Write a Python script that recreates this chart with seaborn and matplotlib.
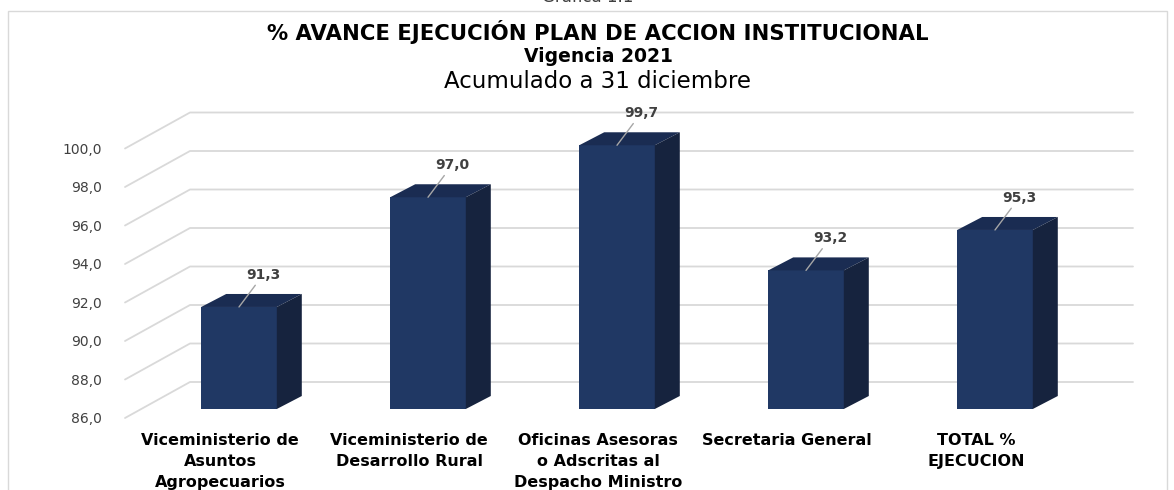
import numpy as np
import matplotlib
matplotlib.use("Agg")
import matplotlib.pyplot as plt
import seaborn as sns
from matplotlib.patches import Polygon, Rectangle
from matplotlib.transforms import ScaledTranslation

# datos de la grafica
categorias = [
    "Viceministerio de\nAsuntos\nAgropecuarios",
    "Viceministerio de\nDesarrollo Rural",
    "Oficinas Asesoras\no Adscritas al\nDespacho Ministro",
    "Secretaria General",
    "TOTAL %\nEJECUCION",
]
avance = [91.3, 97.0, 99.7, 93.2, 95.3]
valores_eje = [86, 88, 90, 92, 94, 96, 98, 100]
etiquetas_eje = [f"{v:.1f}".replace(".", ",") for v in valores_eje]

# colores
frente = "#203864"
tapa = "#1a2c52"
lado = "#16233e"
rejilla = "#d9d9d9"
texto = "#404040"

sns.set_theme(style="white")
plt.rcParams["font.family"] = ["DejaVu Sans"]

W, H = 1174, 490
fig = plt.figure(figsize=(W / 100, H / 100), dpi=100)

# geometria del area de trazado (pixeles)
ymin, ymax = 86, 101.5
px_x = 189.0   # px por categoria
px_y = 19.25   # px por unidad
x0_px = 239    # centro de la primera barra
ax = fig.add_axes([105 / W, (H - 409) / H, 1035 / W, (ymax - ymin) * px_y / H])

sns.barplot(x=categorias, y=avance, color=frente, saturation=1, width=0.4,
            linewidth=0, ax=ax, zorder=3)
ax.set_xlim((105 - x0_px) / px_x, (1140 - x0_px) / px_x)
ax.set_ylim(ymin, ymax)
for s in ax.spines.values():
    s.set_visible(False)
ax.set_xlabel("")
ax.set_ylabel("")

# pared del fondo: lineas diagonales y horizontales
x_ini = (125 - x0_px) / px_x
x_fondo = (190 - x0_px) / px_x
x_fin = (1133 - x0_px) / px_x
for v in valores_eje:
    ax.plot([x_ini, x_fondo, x_fin], [v - 9 / px_y, v + 27 / px_y, v + 27 / px_y],
            color=rejilla, lw=1.3, zorder=1, clip_on=False)

# caras 3D de las barras
ddx, ddy = 25 / px_x, 13 / px_y
for barra, v in zip(ax.patches, avance):
    xa = barra.get_x()
    xb = xa + barra.get_width()
    ax.add_patch(Polygon([(xa, v), (xb, v), (xb + ddx, v + ddy), (xa + ddx, v + ddy)],
                         closed=True, fc=tapa, ec="none", zorder=3, clip_on=False))
    ax.add_patch(Polygon([(xb, ymin), (xb, v), (xb + ddx, v + ddy), (xb + ddx, ymin + ddy)],
                         closed=True, fc=lado, ec="none", zorder=3, clip_on=False))
    ax.annotate(f"{v:.1f}".replace(".", ","), xy=((xa + xb) / 2, v), xytext=(24, 32),
                textcoords="offset pixels", ha="center", va="center", fontsize=10,
                fontweight="bold", color=texto, zorder=5,
                arrowprops=dict(arrowstyle="-", color="#a6a6a6", lw=1, shrinkA=0, shrinkB=0))

# ejes
ax.set_yticks(valores_eje, etiquetas_eje)
ax.tick_params(axis="y", length=0, pad=2, labelsize=10, labelcolor=texto)
ax.tick_params(axis="x", length=0, pad=17, labelsize=11.5, labelcolor="black")
desp_y = ScaledTranslation(0, -9 / 100, fig.dpi_scale_trans)
for lab in ax.get_yticklabels():
    lab.set_transform(lab.get_transform() + desp_y)
desp_x = ScaledTranslation(-19 / 100, 0, fig.dpi_scale_trans)
for lab in ax.get_xticklabels():
    lab.set_transform(lab.get_transform() + desp_x)
    lab.set_fontweight("bold")
    lab.set_linespacing(1.5)

# marco del grafico
fig.patches.append(Rectangle((8 / W, -0.05), 1159 / W, (H - 10.5) / H + 0.05,
                             transform=fig.transFigure, fill=False, ec="#d9d9d9", lw=1))

# titulos
fig.text(588 / W, 1 - 2 / H, "Gráfica 1.1", ha="center", va="baseline", fontsize=12, color="#404040")
fig.text(598 / W, 1 - 32 / H, "% AVANCE EJECUCIÓN PLAN DE ACCION INSTITUCIONAL",
         ha="center", va="center", fontsize=15.3, fontweight="bold", color="black")
fig.text(598 / W, 1 - 56 / H, "Vigencia 2021", ha="center", va="center",
         fontsize=13.5, fontweight="bold", color="black")
fig.text(598 / W, 1 - 81 / H, "Acumulado a 31 diciembre", ha="center", va="center",
         fontsize=16.5, color="black")

fig.savefig("out.png", dpi=100)
